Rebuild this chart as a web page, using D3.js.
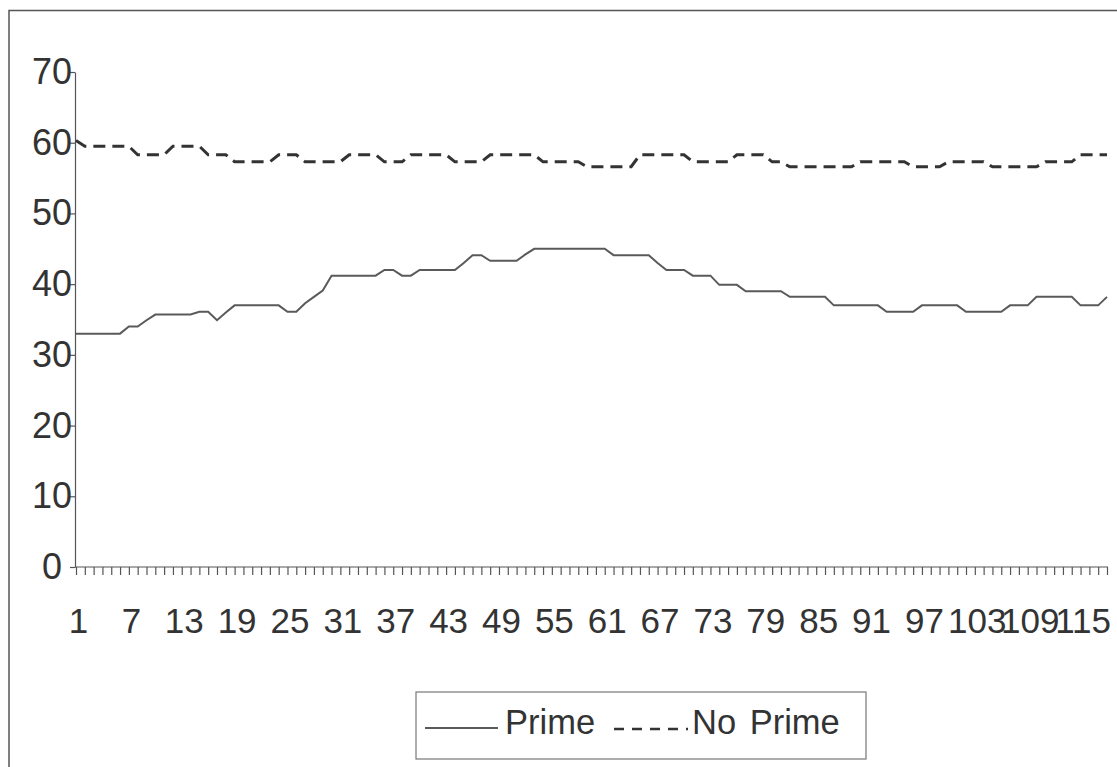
<!DOCTYPE html>
<html>
<head>
<meta charset="utf-8">
<script src="https://cdn.jsdelivr.net/npm/d3@7"></script>
<style>
  body { margin: 0; background: #fff; }
  svg { display: block; font-family: "Liberation Sans", Arial, sans-serif; }
  .axis text { fill: #333; }
  .axis line, .axis path { stroke: #555; }
</style>
</head>
<body>
<svg width="1117" height="767"></svg>
<script>
// category numbers along the x axis
var categories = [
  1, 2, 3, 4, 5, 6, 7, 8, 9, 10, 11, 12, 13, 14, 15, 16, 17, 18, 19, 20,
  21, 22, 23, 24, 25, 26, 27, 28, 29, 30, 31, 32, 33, 34, 35, 36, 37, 38, 39, 40,
  41, 42, 43, 44, 45, 46, 47, 48, 49, 50, 51, 52, 53, 54, 55, 56, 57, 58, 59, 60,
  61, 62, 63, 64, 65, 66, 67, 68, 69, 70, 71, 72, 73, 74, 75, 76, 77, 78, 79, 80,
  81, 82, 83, 84, 85, 86, 87, 88, 89, 90, 91, 92, 93, 94, 95, 96, 97, 98, 99, 100,
  101, 102, 103, 104, 105, 106, 107, 108, 109, 110, 111, 112, 113, 114, 115, 116, 117, 118
];

var prime = [
  33, 33, 33, 33, 33, 33, 34, 34, 34.9, 35.7,
  35.7, 35.7, 35.7, 35.7, 36.1, 36.1, 34.9, 36, 37, 37,
  37, 37, 37, 37, 36.1, 36.1, 37.3, 38.2, 39.1, 41.2,
  41.2, 41.2, 41.2, 41.2, 41.2, 42, 42, 41.2, 41.2, 42,
  42, 42, 42, 42, 43, 44.1, 44.1, 43.3, 43.3, 43.3,
  43.3, 44.2, 45, 45, 45, 45, 45, 45, 45, 45,
  45, 44.1, 44.1, 44.1, 44.1, 44.1, 43, 42, 42, 42,
  41.2, 41.2, 41.2, 39.9, 39.9, 39.9, 39, 39, 39, 39,
  39, 38.2, 38.2, 38.2, 38.2, 38.2, 37, 37, 37, 37,
  37, 37, 36.1, 36.1, 36.1, 36.1, 37, 37, 37, 37,
  37, 36.1, 36.1, 36.1, 36.1, 36.1, 37, 37, 37, 38.2,
  38.2, 38.2, 38.2, 38.2, 37, 37, 37, 38.2
];

var noPrime = [
  60.3, 59.5, 59.5, 59.5, 59.5, 59.5, 59.5, 58.3, 58.3, 58.3,
  58.3, 59.5, 59.5, 59.5, 59.5, 58.3, 58.3, 58.3, 57.3, 57.3,
  57.3, 57.3, 57.3, 58.3, 58.3, 58.3, 57.3, 57.3, 57.3, 57.3,
  57.3, 58.3, 58.3, 58.3, 58.3, 57.3, 57.3, 57.3, 58.3, 58.3,
  58.3, 58.3, 58.3, 57.3, 57.3, 57.3, 57.3, 58.3, 58.3, 58.3,
  58.3, 58.3, 58.3, 57.3, 57.3, 57.3, 57.3, 57.3, 56.6, 56.6,
  56.6, 56.6, 56.6, 56.6, 58.3, 58.3, 58.3, 58.3, 58.3, 58.3,
  57.3, 57.3, 57.3, 57.3, 57.3, 58.3, 58.3, 58.3, 58.3, 57.3,
  57.3, 56.6, 56.6, 56.6, 56.6, 56.6, 56.6, 56.6, 56.6, 57.3,
  57.3, 57.3, 57.3, 57.3, 57.3, 56.6, 56.6, 56.6, 56.6, 57.3,
  57.3, 57.3, 57.3, 57.3, 56.6, 56.6, 56.6, 56.6, 56.6, 56.6,
  57.3, 57.3, 57.3, 57.3, 58.3, 58.3, 58.3, 58.3
];

var xTickLabels = [1, 7, 13, 19, 25, 31, 37, 43, 49, 55, 61, 67, 73, 79, 85, 91, 97, 103, 109, 115];
var yTicks = [0, 10, 20, 30, 40, 50, 60, 70];
var seriesNames = ["Prime", "No Prime"];

main();

function main() {
  var svg = d3.select("svg");

  var x = d3.scalePoint()
    .domain(categories)
    .range([76, 1107]);

  var y = d3.scaleLinear()
    .domain([0, 70])
    .range([567, 72]);

  // outer chart frame (only top and left edges fall inside the picture)
  svg.append("rect")
    .attr("x", 9)
    .attr("y", 10.5)
    .attr("width", 1300)
    .attr("height", 900)
    .attr("fill", "none")
    .attr("stroke", "#555")
    .attr("stroke-width", 1.5);

  // y axis
  var yAxis = svg.append("g")
    .attr("class", "axis axis--y")
    .attr("transform", "translate(75,0)")
    .call(d3.axisLeft(y).tickValues(yTicks).tickSize(5).tickSizeOuter(0));
  yAxis.selectAll("text")
    .attr("x", -23)
    .style("text-anchor", "middle")
    .style("font-size", "36px");

  // x axis
  var xAxis = svg.append("g")
    .attr("class", "axis axis--x")
    .attr("transform", "translate(0," + y(0) + ")")
    .call(d3.axisBottom(x)
      .tickSize(8)
      .tickSizeOuter(0)
      .tickPadding(33)
      .tickFormat(function(d) {
        return xTickLabels.indexOf(d) >= 0 ? d : "";
      }));
  xAxis.select(".domain")
    .attr("d", "M" + (x.range()[0] - 1) + ",0H" + (x.range()[1] + 1));
  xAxis.selectAll("text")
    .attr("dx", 2)
    .style("font-size", "35px");

  svg.selectAll(".axis path, .axis line")
    .attr("stroke-width", 1.2);

  var line = d3.line()
    .x(function(d, i) { return x(categories[i]); })
    .y(function(d) { return y(d); });

  svg.append("path")
    .datum(prime)
    .attr("fill", "none")
    .attr("stroke", "#5a5a5a")
    .attr("stroke-width", 2)
    .attr("d", line);

  svg.append("path")
    .datum(noPrime)
    .attr("fill", "none")
    .attr("stroke", "#333")
    .attr("stroke-width", 3)
    .attr("stroke-dasharray", "12,7")
    .attr("d", line);

  // legend
  var legend = svg.append("g");
  legend.append("rect")
    .attr("x", 416)
    .attr("y", 692)
    .attr("width", 450)
    .attr("height", 67)
    .attr("fill", "#fff")
    .attr("stroke", "#777")
    .attr("stroke-width", 1.2);

  legend.append("line")
    .attr("x1", 425).attr("x2", 498)
    .attr("y1", 728).attr("y2", 728)
    .attr("stroke", "#5a5a5a")
    .attr("stroke-width", 2);
  legend.append("text")
    .attr("x", 505)
    .attr("y", 734)
    .attr("fill", "#333")
    .style("font-size", "34.5px")
    .text(seriesNames[0]);

  legend.append("line")
    .attr("x1", 614).attr("x2", 688)
    .attr("y1", 729).attr("y2", 729)
    .attr("stroke", "#333")
    .attr("stroke-width", 2.5)
    .attr("stroke-dasharray", "10,8");
  legend.append("text")
    .attr("x", 692)
    .attr("y", 734)
    .attr("fill", "#333")
    .style("font-size", "34.5px")
    .style("word-spacing", "4px")
    .text(seriesNames[1]);
}
</script>
</body>
</html>
